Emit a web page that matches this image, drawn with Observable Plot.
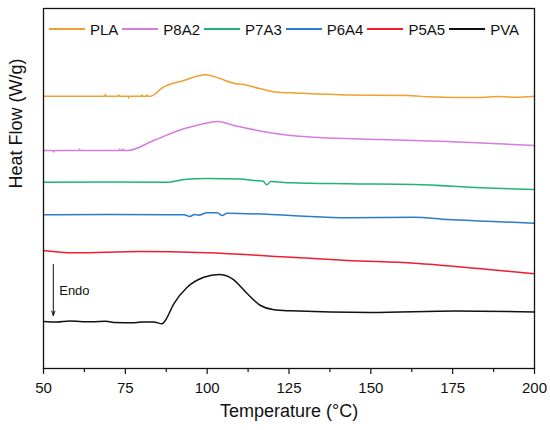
<!DOCTYPE html>
<html>
<head>
<meta charset="utf-8">
<script src="https://cdn.jsdelivr.net/npm/d3@7"></script>
<script src="https://cdn.jsdelivr.net/npm/@observablehq/plot@0.6"></script>
<style>
  html, body { margin: 0; padding: 0; background: #fff; }
  #wrap { position: relative; width: 550px; height: 430px; font-family: "Liberation Sans", Arial, sans-serif; }
  #legend { position: absolute; left: 49px; top: 20px; height: 18px; display: flex; align-items: center; font-size: 15px; color: #111; white-space: nowrap; }
  #legend .item { display: flex; align-items: center; margin-right: 4px; }
  #legend .sw { width: 36px; height: 0; border-top: 2px solid; margin-right: 5px; }
</style>
</head>
<body>
<div id="wrap">
  <div id="chart"></div>
  <div id="legend"></div>
</div>
<script>
// Series names and colours
const seriesNames = ["PLA", "P8A2", "P7A3", "P6A4", "P5A5", "PVA"];
const seriesColors = ["#F0A030", "#D67BE0", "#1FB475", "#2A7BCB", "#F21C30", "#111111"];

// Temperature (°C) and heat flow (arbitrary offset units)
const plaT = [50, 60, 68.7, 68.9, 69.1, 72.8, 73, 73.2, 75.8, 76, 76.2, 79.9, 80.1, 80.3, 81.4, 81.6, 81.8, 82.7, 86.6, 92.8, 99.5, 104.1, 108.1, 111.1, 116.3, 121.5, 125.5, 142.9, 161.2, 167.4, 182.7, 188.8, 193.8, 200];
const plaH = [272.3, 272.3, 272.3, 274, 272.3, 272.3, 273.5, 272.3, 272.3, 270.6, 272.3, 272.3, 273.5, 272.3, 272.3, 273.5, 272.3, 272.3, 281.3, 288, 293.7, 289.7, 285.3, 284, 279.7, 276.3, 275.7, 273.5, 273, 271.8, 270.9, 272, 271.3, 272.3];

const p8a2T = [50, 52.9, 53.1, 53.3, 60.8, 61, 61.2, 73.1, 73.3, 73.5, 74.1, 74.3, 74.5, 75.7, 84, 92.9, 98, 103.1, 108.2, 125.5, 132.6, 153.1, 173.5, 188.8, 200];
const p8a2H = [218, 218, 216.5, 218, 218, 219.3, 218, 218, 219.3, 218, 218, 219.3, 218, 218, 228.5, 239.7, 244, 247, 243, 233, 231.3, 229, 227, 224.7, 223];

const p7a3T = [50, 70, 88.3, 92.9, 100, 110, 114.3, 117, 118.2, 119.4, 125.5, 142.9, 163.3, 183.7, 200];
const p7a3H = [186.3, 186.5, 186.3, 189, 190, 189.5, 188, 187.5, 183.7, 187, 185.7, 184.7, 184, 180.7, 179];

const p6a4T = [50, 70, 92.9, 94.7, 96.1, 97.4, 100, 103.1, 104.6, 106.1, 125.5, 142.9, 163.3, 173.5, 185.7, 200];
const p6a4H = [153.7, 154, 153.7, 152, 154, 153.3, 155.7, 155.7, 153, 155.3, 153, 150.7, 151.3, 149, 147.3, 145.3];

const p5a5T = [50, 59.2, 79.6, 100, 125.5, 142.9, 163.3, 183.7, 200];
const p5a5H = [118, 115.7, 117, 115.7, 111.3, 108, 105.3, 99.7, 94.7];

const pvaT = [50, 54, 58, 62, 65, 69, 72, 77, 80, 83.7, 86.2, 87.2, 89.8, 93.9, 99, 103.6, 107.7, 112.3, 116.3, 120.4, 125.5, 150, 176, 200];
const pvaH = [47, 46.5, 47.5, 46.8, 46.8, 47.2, 46, 45.7, 46.5, 46.5, 44.7, 48, 64.7, 81.3, 91.3, 94, 89.7, 74.7, 63, 58.7, 57.7, 56, 57.5, 56.5];

// Axis ticks
const majorTicks = [50, 75, 100, 125, 150, 175, 200];
const minorTicks = [62.5, 87.5, 112.5, 137.5, 162.5, 187.5];

// Annotation
const endoArrow = [{x: 53, y1: 104, y2: 53}];
const endoLabel = [{x: 54.8, y: 78, text: "Endo"}];

const seriesT = [plaT, p8a2T, p7a3T, p6a4T, p5a5T, pvaT];
const seriesH = [plaH, p8a2H, p7a3H, p6a4H, p5a5H, pvaH];
const rows = seriesNames.flatMap((name, i) => seriesT[i].map((t, j) => ({series: name, T: t, H: seriesH[i][j]})));

const font = "'Liberation Sans', Arial, sans-serif";

const chart = Plot.plot({
  width: 550,
  height: 430,
  marginLeft: 43,
  marginRight: 16,
  marginTop: 8,
  marginBottom: 62,
  style: {fontFamily: font, background: "#fff", color: "#111"},
  x: {domain: [50, 200]},
  y: {domain: [0, 360], axis: null},
  color: {domain: seriesNames, range: seriesColors},
  marks: [
    Plot.axisX(majorTicks, {tickSize: 6, tickPadding: 8, fontSize: 15, label: null, strokeWidth: 1.2}),
    Plot.axisX(minorTicks, {tickSize: 4, tickFormat: () => "", label: null, strokeWidth: 1.2}),
    Plot.line(rows, {x: "T", y: "H", z: "series", stroke: "series", strokeWidth: 1.5, curve: "monotone-x"}),
    Plot.arrow(endoArrow, {x1: "x", x2: "x", y1: "y1", y2: "y2", stroke: "#111", strokeWidth: 1, headLength: 7, headAngle: 40}),
    Plot.text(endoLabel, {x: "x", y: "y", text: "text", textAnchor: "start", fontSize: 13, fill: "#111"}),
    Plot.text(["Temperature (°C)"], {frameAnchor: "bottom", dy: 48, fontSize: 18, fill: "#111"}),
    Plot.text(["Heat Flow (W/g)"], {frameAnchor: "left", dx: -27, rotate: -90, fontSize: 18, fill: "#111"}),
    Plot.frame({stroke: "#111", strokeWidth: 1.3})
  ]
});
document.getElementById("chart").appendChild(chart);

const legend = document.getElementById("legend");
seriesNames.forEach((name, i) => {
  const item = document.createElement("div");
  item.className = "item";
  const sw = document.createElement("span");
  sw.className = "sw";
  sw.style.borderTopColor = seriesColors[i];
  const label = document.createElement("span");
  label.textContent = name;
  item.appendChild(sw);
  item.appendChild(label);
  legend.appendChild(item);
});
</script>
</body>
</html>
